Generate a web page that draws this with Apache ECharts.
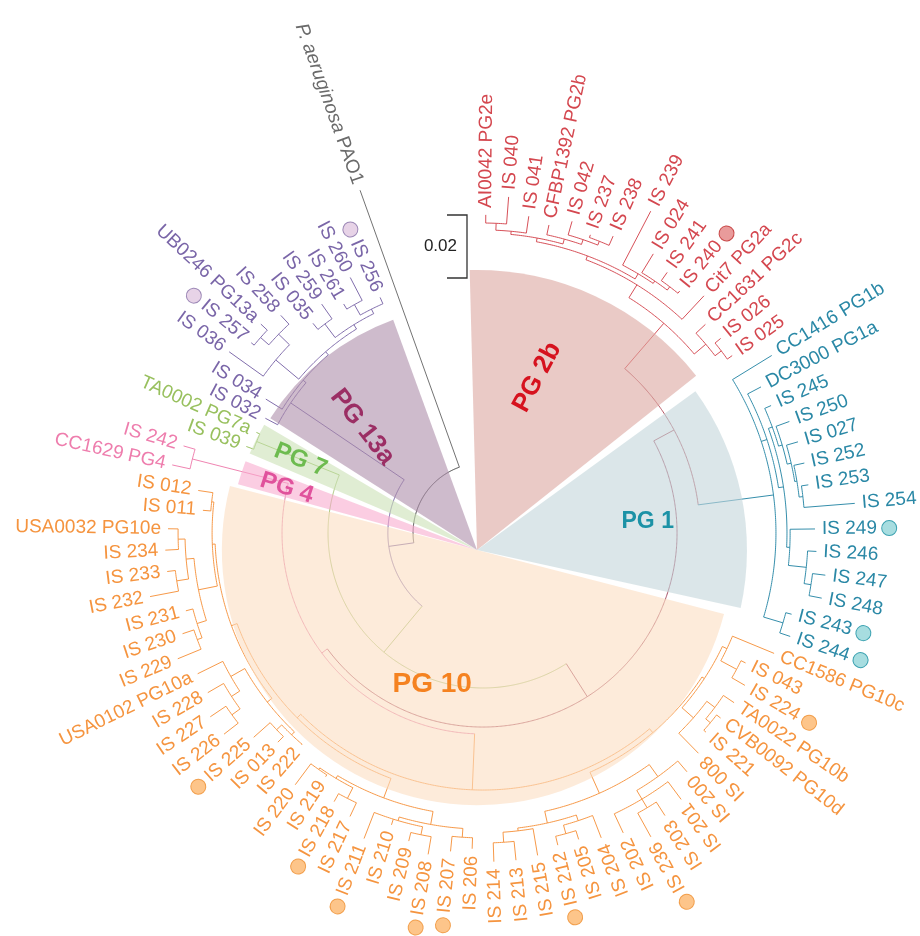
<!DOCTYPE html>
<html>
<head>
<meta charset="utf-8">
<script src="https://cdn.jsdelivr.net/npm/echarts@6.0.0/dist/echarts.min.js"></script>
<style>html,body{margin:0;padding:0;background:#fff;}#chart{width:920px;height:936px;}#err{position:absolute;left:5px;top:5px;font:12px monospace;color:#c00;white-space:pre-wrap;width:900px}</style>
</head>
<body>
<div id="chart"></div>
<div id="err"></div>
<script>
// ---------------- DATA ----------------
const leafNames = [
  'AI0042 PG2e','IS 040','IS 041','CFBP1392 PG2b','IS 042','IS 237','IS 238','IS 239','IS 024','IS 241',
  'IS 240','Cit7 PG2a','CC1631 PG2c','IS 026','IS 025',
  'CC1416 PG1b','DC3000 PG1a','IS 245','IS 250','IS 027','IS 252','IS 253','IS 254','IS 249','IS 246',
  'IS 247','IS 248','IS 243','IS 244',
  'CC1586 PG10c','IS 043','IS 224','TA0022 PG10b','CVB0092 PG10d','IS 221','IS 008','IS 200','IS 201','IS 203',
  'IS 236','IS 202','IS 204','IS 205','IS 212','IS 215','IS 213','IS 214','IS 206','IS 207',
  'IS 208','IS 209','IS 210','IS 211','IS 217','IS 218','IS 219','IS 220','IS 222','IS 013',
  'IS 225','IS 226','IS 227','IS 228','USA0102 PG10a','IS 229','IS 230','IS 231','IS 232','IS 233',
  'IS 234','USA0032 PG10e','IS 011','IS 012',
  'CC1629 PG4','IS 242',
  'IS 039','TA0002 PG7a',
  'IS 032','IS 034','IS 036','IS 257','UB0246 PG13a','IS 258','IS 035','IS 259','IS 261','IS 260','IS 256',
  'P. aeruginosa PAO1'
];
const leafGroup = [
  'r','r','r','r','r','r','r','r','r','r','r','r','r','r','r',
  'b','b','b','b','b','b','b','b','b','b','b','b','b','b',
  'o','o','o','o','o','o','o','o','o','o','o','o','o','o','o','o','o','o','o','o','o','o',
  'o','o','o','o','o','o','o','o','o','o','o','o','o','o','o','o','o','o','o','o','o','o',
  'p','p','g','g',
  'v','v','v','v','v','v','v','v','v','v','v',
  'x'
];
const leafDepth = [
  0.1010,0.1070,0.1016,0.1000,0.1029,0.1006,0.1029,0.1152,0.1038,0.1013,
  0.0990,0.1029,0.0968,0.0975,0.0971,
  0.1076,0.0997,0.1000,0.1035,0.1041,0.1044,0.1044,0.1184,0.1054,0.1060,
  0.1095,0.1095,0.1013,0.1029,
  0.1000,0.0930,0.0962,0.0962,0.0956,0.0949,0.0978,0.0997,0.1054,0.1067,
  0.1102,0.1051,0.1038,0.1019,0.1019,0.1038,0.1044,0.1044,0.1003,0.1016,
  0.1035,0.1006,0.0971,0.1041,0.0994,0.0975,0.0921,0.0997,0.0886,0.0930,
  0.0975,0.1041,0.1044,0.1010,0.1010,0.1048,0.1006,0.0975,0.1076,0.1010,
  0.1010,0.1000,0.0892,0.0914,
  0.1010,0.0990,
  0.0800,0.0787,
  0.0781,0.0810,0.0990,0.0952,0.0968,0.0943,0.0857,0.0889,0.0851,0.0914,0.0816,
  0.1156
];
const markedLeaves = ['IS 240','IS 249','IS 243','IS 244','IS 224','IS 236','IS 212','IS 207','IS 208',
  'IS 211','IS 218','IS 225','IS 257','IS 256'];
const cladeFirst = [0,0,0,0,0,29,75,73,77,
  0,0,0,0,0,0,3,4,5,7,8,9,12,13,
  15,16,17,17,18,19,20,21,23,24,25,27,
  29,29,29,29,30,32,32,33,36,36,37,38,41,41,42,44,45,47,47,47,47,49,49,53,53,55,57,57,57,58,60,60,60,64,64,64,64,67,67,69,71,
  78,79,79,80,80,83,83,85,85];
const cladeLast = [88,87,76,74,28,74,76,74,87,
  14,11,10,6,2,1,6,6,6,10,10,10,14,14,
  28,26,26,22,22,22,22,22,26,26,26,28,
  72,46,35,31,31,35,34,34,46,40,40,39,46,43,43,46,46,72,56,52,48,52,50,56,54,56,72,63,59,59,63,62,61,72,70,66,65,70,68,70,72,
  87,87,82,82,81,87,84,87,86];
const cladeDepth = [0.0222,0.0302,0.0492,0.0616,0.0689,0.0638,0.0775,0.0952,0.0737,
  0.0879,0.0927,0.0940,0.0952,0.0962,0.0984,0.0968,0.0984,0.0997,0.0959,0.0968,0.0981,0.0927,0.0952,
  0.0930,0.0949,0.0965,0.0978,0.0990,0.1003,0.1010,0.1022,0.0975,0.1032,0.1054,0.0994,
  0.0816,0.0832,0.0841,0.0857,0.0914,0.0889,0.0921,0.0940,0.0905,0.0952,0.0984,0.1016,0.0943,0.0962,0.0990,0.0952,0.0984,
  0.0832,0.0898,0.0940,0.0968,0.0952,0.0978,0.0908,0.0946,0.0914,0.0851,0.0870,0.0883,0.0905,0.0921,0.0952,0.0984,
  0.0860,0.0921,0.0952,0.0968,0.0946,0.0984,0.0968,0.0867,
  0.0749,0.0762,0.0857,0.0905,0.0940,0.0778,0.0832,0.0794,0.0832];
const wedgeNames = ['PG 2b','PG 1','PG 10','PG 4','PG 7','PG 13a'];
const wedgeFromDeg = [38.5, -12.4, 165.5, 159.0, 149.5, 110.0];
const wedgeToDeg   = [91.5,  36.0, 345.5, 164.6, 157.0, 147.5];
const wedgeReach   = [0.0889, 0.0857, 0.0810, 0.0787, 0.0784, 0.0778];
const scaleBarLength = 0.02;

// ---------------- STYLE / LAYOUT ----------------
const LEAF_SLOTS = 93.24;
const FIRST_LEAF_ANGLE = 89.5;
const R_MAX = 0.12, R_PX = 378;
const FONT = '"Liberation Sans", Arial, Helvetica, sans-serif';
const GROUP_COLOR = {r:'#d4474f', b:'#2a88a6', o:'#f5943f', p:'#ee7dad', g:'#98c05e', v:'#7a66a8', x:'#6a6a6a'};
const MIXED_NODE_COLOR = {'0-88':'#333333', '0-87':'#6f5b9e', '0-76':'#a3c072', '0-74':'#a2475e', '0-28':'#b24e5c', '29-74':'#e27aa6'};
const MARK_FILL = {r:'#e99b9b', b:'#a7dde0', o:'#fdc58a', v:'#e7d3e7'};
const MARK_STROKE = {r:'#c94a4a', b:'#3ca2b1', o:'#f29f4c', v:'#9d89b7'};
const WEDGE_FILL = ['rgba(220,167,160,0.6)','rgba(195,213,218,0.6)','rgba(252,222,193,0.6)',
                    'rgba(248,172,207,0.6)','rgba(203,225,182,0.6)','rgba(173,142,170,0.6)'];
const WEDGE_TEXT = ['#d6121e','#1c92a6','#f58220','#e0529c','#6dbb4f','#9b2e64'];
const WEDGE_LABEL_POS = [[70.8,183],[9.3,173],[251.6,142],[162,200],[153,198],[133,168]];
const WEDGE_LABEL_ROT = [62,0,0,-18,-22,-52];
const WEDGE_LABEL_SIZE = [26,23,28,24,24,26];
const FLIP_FROM = 100, FLIP_TO = 316;

try {
// ---------------- TREE BUILD ----------------
const nodes = [];
for (let i = 0; i < leafNames.length; i++) {
  nodes.push({first:i, last:i, depth:leafDepth[i], leaf:true, children:[], angle:i, parent:null});
}
for (let k = 0; k < cladeFirst.length; k++) {
  nodes.push({first:cladeFirst[k], last:cladeLast[k], depth:cladeDepth[k], leaf:false, children:[], angle:null, parent:null});
}
for (const n of nodes) {
  let best = null;
  for (const m of nodes) {
    if (m === n || m.leaf) continue;
    if (m.first <= n.first && m.last >= n.last && !(m.first === n.first && m.last === n.last)) {
      if (!best || (m.last - m.first) < (best.last - best.first)) best = m;
    }
  }
  n.parent = best;
  if (best) best.children.push(n);
}
function computeAngle(n) {
  if (n.leaf) return n.angle;
  if (n.angle !== null) return n.angle;
  n.children.sort((a, b) => a.first - b.first);
  const a1 = computeAngle(n.children[0]);
  const a2 = computeAngle(n.children[n.children.length - 1]);
  n.angle = (a1 + a2) / 2;
  return n.angle;
}
nodes.forEach(computeAngle);

function isMixed(n) {
  for (let i = n.first; i <= n.last; i++) if (leafGroup[i] !== leafGroup[n.first]) return true;
  return false;
}
function nodeColor(n) {
  const key = n.first + '-' + n.last;
  if (isMixed(n) && MIXED_NODE_COLOR[key]) return MIXED_NODE_COLOR[key];
  return GROUP_COLOR[leafGroup[n.last]];
}

// ---------------- RENDERERS ----------------
function renderWedge(params, api) {
  const k = params.dataIndex;
  const from = wedgeFromDeg[k], to = wedgeToDeg[k];
  const c = api.coord([0, (from + to) / 2]);
  const p = api.coord([wedgeReach[k], (from + to) / 2]);
  const r = Math.hypot(p[0] - c[0], p[1] - c[1]);
  return {type:'sector', shape:{cx:c[0], cy:c[1], r0:0, r:r,
      startAngle:-to * Math.PI / 180, endAngle:-from * Math.PI / 180, clockwise:true},
    style:{fill:WEDGE_FILL[k]}};
}
function renderWedgeLabel(params, api) {
  const k = params.dataIndex;
  const pos = WEDGE_LABEL_POS[k];
  const p = api.coord([pos[1] / R_PX * R_MAX, pos[0]]);
  return {type:'text', x:p[0], y:p[1], rotation:WEDGE_LABEL_ROT[k] * Math.PI / 180,
    style:{text:wedgeNames[k], fill:WEDGE_TEXT[k], font:'bold ' + WEDGE_LABEL_SIZE[k] + 'px ' + FONT,
      align:'center', verticalAlign:'middle'}};
}
function renderBranch(params, api) {
  const n = nodes[params.dataIndex];
  const col = nodeColor(n);
  const style = {stroke:col, lineWidth:1, fill:null, opacity:0.95};
  const out = [];
  if (n.parent) {
    const p0 = api.coord([n.parent.depth, n.angle]);
    const p1 = api.coord([n.depth, n.angle]);
    out.push({type:'line', shape:{x1:p0[0], y1:p0[1], x2:p1[0], y2:p1[1]}, style:style});
  }
  if (!n.leaf) {
    const a1 = n.children[0].angle, a2 = n.children[n.children.length - 1].angle;
    const steps = Math.max(2, Math.ceil(Math.abs(a2 - a1) / 0.1));
    const pts = [];
    for (let s = 0; s <= steps; s++) pts.push(api.coord([n.depth, a1 + (a2 - a1) * s / steps]));
    out.push({type:'polyline', shape:{points:pts}, style:style});
  }
  return {type:'group', children:out};
}
function renderLeafLabel(params, api) {
  const i = params.dataIndex;
  const name = leafNames[i], g = leafGroup[i];
  const c = api.coord([0, i]);
  const p = api.coord([leafDepth[i], i]);
  const th = Math.atan2(c[1] - p[1], p[0] - c[0]);
  let deg = th * 180 / Math.PI; if (deg < 0) deg += 360;
  const flip = deg > FLIP_FROM && deg < FLIP_TO;
  const gap = 7;
  const x = p[0] + gap * Math.cos(th), y = p[1] - gap * Math.sin(th);
  const marked = markedLeaves.indexOf(name) >= 0;
  let text = name;
  const italicPart = name.match(/^(P\. [a-z]+) (.*)$/);
  if (italicPart) text = '{i|' + italicPart[1] + '} ' + italicPart[2];
  if (marked) text = flip ? '{c|} ' + text : text + ' {c|}';
  return {type:'text', x:x, y:y, rotation: flip ? th - Math.PI : th,
    style:{text:text, fill:GROUP_COLOR[g], font:'19px ' + FONT,
      align: flip ? 'right' : 'left', verticalAlign:'middle',
      rich:{c:{width:14, height:14, borderRadius:7, backgroundColor:MARK_FILL[g] || '#ddd',
        borderColor:MARK_STROKE[g] || '#999', borderWidth:1},
        i:{fontStyle:'italic', fontSize:19, fontFamily:FONT, fill:GROUP_COLOR[g]}}}};
}
function renderScaleBar(params, api) {
  const a = api.coord([0, 0]), b = api.coord([scaleBarLength, 0]);
  const len = Math.hypot(b[0] - a[0], b[1] - a[1]);
  const x = 467, y0 = 215;
  return {type:'group', children:[
    {type:'polyline', shape:{points:[[x - 20, y0], [x, y0], [x, y0 + len], [x - 20, y0 + len]]},
      style:{stroke:'#333', lineWidth:1.3, fill:null}},
    {type:'text', x:x - 10, y:y0 + len / 2,
      style:{text:String(scaleBarLength), align:'right', verticalAlign:'middle', font:'17px ' + FONT, fill:'#222'}}
  ]};
}

// ---------------- CHART ----------------
const hidden = {axisLine:{show:false}, axisTick:{show:false}, axisLabel:{show:false}, splitLine:{show:false}};
const chart = echarts.init(document.getElementById('chart'), null, {renderer:'canvas'});
chart.setOption({
  animation:false,
  backgroundColor:'#ffffff',
  polar:[{center:[483, 533], radius:R_PX}, {center:[477, 550], radius:R_PX}],
  angleAxis:[
    Object.assign({polarIndex:0, type:'value', min:0, max:LEAF_SLOTS, startAngle:FIRST_LEAF_ANGLE, clockwise:true}, hidden),
    Object.assign({polarIndex:1, type:'value', min:0, max:360, startAngle:0, clockwise:false}, hidden)
  ],
  radiusAxis:[
    Object.assign({polarIndex:0, type:'value', min:0, max:R_MAX}, hidden),
    Object.assign({polarIndex:1, type:'value', min:0, max:R_MAX}, hidden)
  ],
  series:[
    {type:'custom', coordinateSystem:'polar', polarIndex:0, silent:true, z:1,
      data:nodes.map(n => [n.depth, n.angle]), renderItem:renderBranch},
    {type:'custom', coordinateSystem:'polar', polarIndex:1, silent:true, z:2,
      data:wedgeNames.map((n, k) => [wedgeReach[k], (wedgeFromDeg[k] + wedgeToDeg[k]) / 2]),
      renderItem:renderWedge},
    {type:'custom', coordinateSystem:'polar', polarIndex:0, silent:true, z:3,
      data:leafNames.map((n, i) => [leafDepth[i], i]), renderItem:renderLeafLabel},
    {type:'custom', coordinateSystem:'polar', polarIndex:1, silent:true, z:4,
      data:wedgeNames.map((n, k) => [WEDGE_LABEL_POS[k][1] / R_PX * R_MAX, WEDGE_LABEL_POS[k][0]]),
      renderItem:renderWedgeLabel},
    {type:'custom', coordinateSystem:'polar', polarIndex:0, silent:true, z:4,
      data:[[scaleBarLength, 0]], renderItem:renderScaleBar}
  ]
});
} catch (e) {
  document.getElementById('err').textContent = String(e && e.stack || e);
}
</script>
</body>
</html>
